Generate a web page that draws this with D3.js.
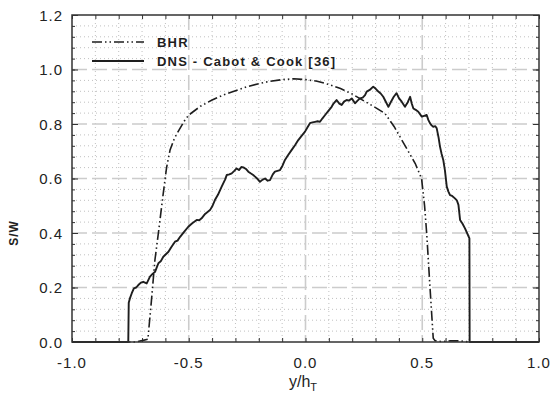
<!DOCTYPE html>
<html>
<head>
<meta charset="utf-8">
<script src="https://cdn.jsdelivr.net/npm/d3@7"></script>
<style>
  body { margin: 0; background: #fff; }
  svg { display: block; font-family: "Liberation Sans", Arial, sans-serif; }
</style>
</head>
<body>
<div id="chart"></div>
<script>
// ---- data ----
const bhrX = [-1.0, -0.73, -0.70, -0.675, -0.66, -0.645, -0.63, -0.62, -0.61, -0.595, -0.58, -0.56, -0.54, -0.52, -0.50,
  -0.45, -0.40, -0.35, -0.30, -0.25, -0.20, -0.15, -0.10, -0.05, 0.0, 0.05, 0.10, 0.15, 0.20, 0.25, 0.30, 0.34,
  0.38, 0.41, 0.44, 0.47, 0.497, 0.51, 0.519, 0.533, 0.547, 0.555, 0.58, 0.62, 0.66, 0.70, 1.0];
const bhrY = [0, 0, 0.005, 0.01, 0.15, 0.30, 0.40, 0.47, 0.54, 0.64, 0.705, 0.75, 0.78, 0.81, 0.833,
  0.865, 0.888, 0.907, 0.922, 0.937, 0.948, 0.957, 0.963, 0.966, 0.963, 0.957, 0.945, 0.93, 0.91, 0.885, 0.86, 0.839,
  0.79, 0.745, 0.70, 0.655, 0.60, 0.50, 0.399, 0.203, 0.014, 0.005, 0.002, 0.004, 0.004, 0, 0];

const dnsX = [-1.0, -0.759, -0.757, -0.752, -0.744, -0.735, -0.725, -0.716, -0.705, -0.695, -0.68, -0.666, -0.655, -0.644,
  -0.63, -0.62, -0.609, -0.598, -0.587, -0.575, -0.559, -0.548, -0.537, -0.52, -0.502, -0.485, -0.466, -0.455, -0.445,
  -0.43, -0.409, -0.398, -0.388, -0.375, -0.359, -0.345, -0.337, -0.326, -0.316, -0.305, -0.295, -0.285, -0.275, -0.266,
  -0.255, -0.245, -0.235, -0.224, -0.216, -0.205, -0.195, -0.185, -0.173, -0.162, -0.152, -0.14, -0.131, -0.12, -0.109,
  -0.098, -0.088, -0.075, -0.059, -0.045, -0.031, -0.015, -0.002, 0.01, 0.019, 0.03, 0.041, 0.052, 0.062, 0.072, 0.084,
  0.098, 0.112, 0.12, 0.133, 0.145, 0.155, 0.165, 0.176, 0.187, 0.198, 0.212, 0.222, 0.233, 0.245, 0.255, 0.262, 0.275,
  0.29, 0.30, 0.312, 0.322, 0.333, 0.345, 0.355, 0.365, 0.378, 0.39, 0.40, 0.412, 0.426, 0.438, 0.448, 0.455, 0.462,
  0.472, 0.483, 0.498, 0.508, 0.519, 0.526, 0.533, 0.54, 0.547, 0.556, 0.562, 0.57, 0.576, 0.583, 0.59, 0.597, 0.605,
  0.612, 0.619, 0.628, 0.64, 0.648, 0.655, 0.662, 0.672, 0.683, 0.692, 0.702, 0.703, 1.0];
const dnsY = [0, 0, 0.144, 0.16, 0.179, 0.197, 0.20, 0.209, 0.218, 0.221, 0.215, 0.24, 0.25, 0.258,
  0.289, 0.296, 0.313, 0.322, 0.331, 0.348, 0.368, 0.372, 0.386, 0.404, 0.423, 0.436, 0.448, 0.447, 0.454,
  0.47, 0.484, 0.50, 0.521, 0.54, 0.57, 0.595, 0.613, 0.615, 0.619, 0.628, 0.637, 0.631, 0.642, 0.641,
  0.635, 0.625, 0.619, 0.613, 0.607, 0.598, 0.588, 0.595, 0.60, 0.592, 0.594, 0.615, 0.625, 0.628, 0.631,
  0.648, 0.668, 0.685, 0.705, 0.722, 0.741, 0.758, 0.772, 0.79, 0.803, 0.806, 0.808, 0.81, 0.808, 0.82, 0.833,
  0.848, 0.863, 0.875, 0.888, 0.875, 0.87, 0.882, 0.888, 0.886, 0.894, 0.876, 0.885, 0.894, 0.897, 0.906, 0.919, 0.925,
  0.937, 0.93, 0.919, 0.912, 0.90, 0.88, 0.863, 0.88, 0.90, 0.913, 0.895, 0.882, 0.863, 0.88, 0.90, 0.875, 0.857,
  0.852, 0.845, 0.827, 0.83, 0.833, 0.815, 0.803, 0.795, 0.79, 0.792, 0.784, 0.75, 0.717, 0.69, 0.668, 0.631, 0.57,
  0.552, 0.539, 0.536, 0.527, 0.52, 0.503, 0.448, 0.435, 0.417, 0.40, 0.38, 0, 0];

const seriesNames = ['BHR', 'DNS - Cabot & Cook [36]'];
const xTickLabels = [-1.0, -0.5, 0.0, 0.5, 1.0];
const yTickLabels = [0.0, 0.2, 0.4, 0.6, 0.8, 1.0, 1.2];

// ---- layout ----
const width = 551, height = 409;
const margin = { top: 15, right: 12, bottom: 67, left: 72 };
const w = width - margin.left - margin.right;
const h = height - margin.top - margin.bottom;

const svg = d3.select('#chart').append('svg')
  .attr('width', width)
  .attr('height', height);

const g = svg.append('g')
  .attr('transform', `translate(${margin.left},${margin.top})`);

const x = d3.scaleLinear().domain([-1, 1]).range([0, w]);
const y = d3.scaleLinear().domain([0, 1.2]).range([h, 0]);

// plain hyphen for negatives, like the original
const fmt = d => d3.format('.1f')(d).replace('\u2212', '-');

const near = (a, b) => Math.abs(a - b) < 1e-6;
const xMinor = d3.range(-10, 11).map(i => i / 10);
const yMinor = d3.range(0, 31).map(i => i * 0.04);
const isXMajor = v => xTickLabels.some(t => near(t, v));
const isYMajor = v => yTickLabels.some(t => near(t, v));

// minor dotted grid
g.append('g').selectAll('line')
  .data(xMinor.filter(v => !isXMajor(v)))
  .join('line')
  .attr('x1', d => x(d)).attr('x2', d => x(d))
  .attr('y1', 0).attr('y2', h)
  .attr('stroke', '#c0c0c0').attr('stroke-width', 1)
  .attr('stroke-dasharray', '1,3');

g.append('g').selectAll('line')
  .data(yMinor.filter(v => !isYMajor(v)))
  .join('line')
  .attr('x1', 0).attr('x2', w)
  .attr('y1', d => y(d)).attr('y2', d => y(d))
  .attr('stroke', '#c0c0c0').attr('stroke-width', 1)
  .attr('stroke-dasharray', '1,3');

// major dashed grid
g.append('g').selectAll('line')
  .data(xTickLabels.filter(v => v > -1 && v < 1))
  .join('line')
  .attr('x1', d => x(d)).attr('x2', d => x(d))
  .attr('y1', 0).attr('y2', h)
  .attr('stroke', '#cccccc').attr('stroke-width', 1.6)
  .attr('stroke-dasharray', '15,5');

g.append('g').selectAll('line')
  .data(yTickLabels.filter(v => v > 0 && v < 1.2))
  .join('line')
  .attr('x1', 0).attr('x2', w)
  .attr('y1', d => y(d)).attr('y2', d => y(d))
  .attr('stroke', '#cccccc').attr('stroke-width', 1.6)
  .attr('stroke-dasharray', '15,5');

// inward ticks on all four sides
const tickStyle = sel => {
  sel.select('.domain').remove();
  sel.selectAll('.tick line').attr('stroke', '#333').attr('stroke-width', 1);
};

g.append('g').attr('transform', `translate(0,${h})`)
  .call(d3.axisBottom(x).tickValues(xMinor).tickSize(-4).tickFormat(''))
  .call(tickStyle);
g.append('g')
  .call(d3.axisTop(x).tickValues(xMinor).tickSize(-4).tickFormat(''))
  .call(tickStyle);
g.append('g')
  .call(d3.axisLeft(y).tickValues(yMinor).tickSize(-3).tickFormat(''))
  .call(tickStyle);
g.append('g').attr('transform', `translate(${w},0)`)
  .call(d3.axisRight(y).tickValues(yMinor).tickSize(-3).tickFormat(''))
  .call(tickStyle);
g.append('g')
  .call(d3.axisLeft(y).tickValues(yTickLabels).tickSize(-6).tickFormat(''))
  .call(tickStyle);
g.append('g').attr('transform', `translate(${w},0)`)
  .call(d3.axisRight(y).tickValues(yTickLabels).tickSize(-6).tickFormat(''))
  .call(tickStyle);

// tick labels
g.append('g').selectAll('text')
  .data(xTickLabels)
  .join('text')
  .attr('x', d => x(d))
  .attr('y', h + 26)
  .attr('text-anchor', 'middle')
  .attr('font-size', 15)
  .attr('letter-spacing', 1)
  .attr('fill', '#222')
  .text(fmt);

g.append('g').selectAll('text')
  .data(yTickLabels)
  .join('text')
  .attr('x', -9)
  .attr('y', d => y(d) + 5.5)
  .attr('text-anchor', 'end')
  .attr('font-size', 15)
  .attr('letter-spacing', 1)
  .attr('fill', '#222')
  .text(fmt);

// curves
const line = d3.line()
  .x(d => x(d[0]))
  .y(d => y(d[1]));

g.append('path')
  .datum(d3.zip(bhrX, bhrY))
  .attr('fill', 'none')
  .attr('stroke', '#1e1e1e')
  .attr('stroke-width', 1.6)
  .attr('stroke-dasharray', '10,3,1.5,3,1.5,3')
  .attr('d', line);

g.append('path')
  .datum(d3.zip(dnsX, dnsY))
  .attr('fill', 'none')
  .attr('stroke', '#1e1e1e')
  .attr('stroke-width', 1.9)
  .attr('stroke-linejoin', 'round')
  .attr('d', line);

// frame
g.append('rect')
  .attr('width', w).attr('height', h)
  .attr('fill', 'none')
  .attr('stroke', '#333')
  .attr('stroke-width', 1.5);

// legend
const legend = g.append('g').attr('transform', 'translate(20,27)');
seriesNames.forEach((name, i) => {
  const row = legend.append('g').attr('transform', `translate(0,${i * 19})`);
  row.append('line')
    .attr('x1', 0).attr('x2', 52)
    .attr('stroke', '#1e1e1e')
    .attr('stroke-width', i === 0 ? 1.6 : 1.9)
    .attr('stroke-dasharray', i === 0 ? '10,3,1.5,3,1.5,3' : null);
  row.append('text')
    .attr('x', 65).attr('y', 4.5)
    .attr('font-size', 13)
    .attr('font-weight', 'bold')
    .attr('letter-spacing', 1.2)
    .attr('fill', '#1e1e1e')
    .text(name);
});

// axis titles
const xt = svg.append('text')
  .attr('x', 289).attr('y', 387)
  .attr('font-size', 16)
  .attr('fill', '#222');
xt.append('tspan').text('y/h');
xt.append('tspan').attr('font-size', 11).attr('dy', 4).text('T');

svg.append('text')
  .attr('transform', 'translate(18,233) rotate(-90)')
  .attr('text-anchor', 'middle')
  .attr('font-size', 12)
  .attr('font-weight', 'bold')
  .attr('letter-spacing', 1)
  .attr('fill', '#222')
  .text('S/W');
</script>
</body>
</html>
